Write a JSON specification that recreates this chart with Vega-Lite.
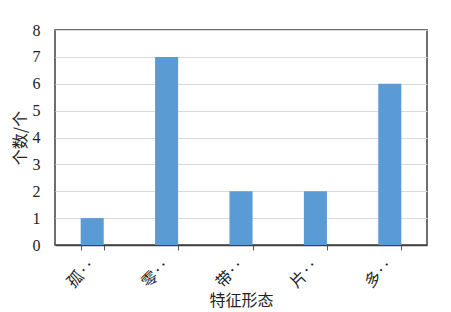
{
  "$schema": "https://vega.github.io/schema/vega-lite/v6.json",
  "width": 372,
  "height": 215,
  "autosize": {"type": "none"},
  "padding": {"left": 55, "top": 30, "right": 24, "bottom": 67},
  "background": "white",
  "data": {
    "values": [
      {"形态": "孤‥", "个数": 1},
      {"形态": "零‥", "个数": 7},
      {"形态": "带‥", "个数": 2},
      {"形态": "片‥", "个数": 2},
      {"形态": "多‥", "个数": 6}
    ]
  },
  "mark": {"type": "bar", "color": "#5B9BD5"},
  "encoding": {
    "x": {
      "field": "形态",
      "type": "nominal",
      "sort": null,
      "scale": {"paddingInner": 0.69, "paddingOuter": 0.345},
      "axis": {
        "title": "特征形态",
        "titleFont": "Noto Sans CJK SC",
        "titleFontSize": 16,
        "titleFontWeight": "normal",
        "titleColor": "#222",
        "titlePadding": 2,
        "labelAngle": -45,
        "labelAlign": "right",
        "labelBaseline": "middle",
        "labelFont": "Noto Sans CJK SC",
        "labelFontSize": 16,
        "labelColor": "#222",
        "labelPadding": 12,
        "tickBand": "extent",
        "ticks": true,
        "tickSize": 5,
        "tickColor": "#595959",
        "domainColor": "#404040",
        "domainWidth": 1.5,
        "grid": false
      }
    },
    "y": {
      "field": "个数",
      "type": "quantitative",
      "scale": {"domain": [0, 8]},
      "axis": {
        "title": "个数/个",
        "titleFont": "Noto Sans CJK SC",
        "titleFontSize": 16,
        "titleFontWeight": "normal",
        "titleColor": "#222",
        "titlePadding": 4,
        "values": [0, 1, 2, 3, 4, 5, 6, 7, 8],
        "labelFont": "Liberation Serif, serif",
        "labelFontSize": 16,
        "labelColor": "#222",
        "labelPadding": 15,
        "ticks": false,
        "domain": false,
        "grid": true,
        "gridColor": "#D9D9D9",
        "gridWidth": 1
      }
    }
  },
  "config": {
    "view": {"stroke": "#404040", "strokeWidth": 1.5}
  }
}
